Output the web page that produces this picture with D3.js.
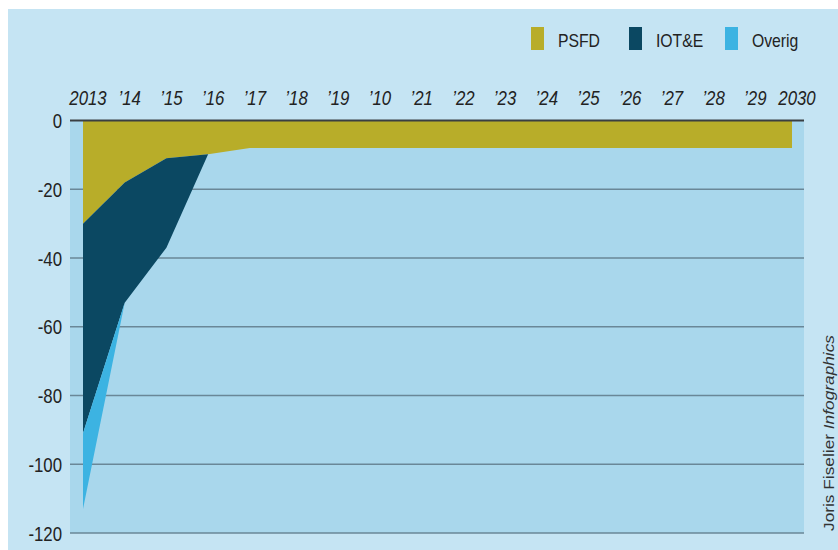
<!DOCTYPE html>
<html>
<head>
<meta charset="utf-8">
<script src="https://cdn.jsdelivr.net/npm/d3@7"></script>
<style>
  body { margin: 0; background: #fff; }
  svg { display: block; }
  .axis-text { font-family: "Liberation Sans", Arial, sans-serif; fill: #222; }
</style>
</head>
<body>
<div class="chart"></div>
<script>
// Set up chart
var svgWidth = 838;
var svgHeight = 550;

var years = d3.range(2013, 2031);
var yearLabels = ["2013", "’14", "’15", "’16", "’17", "’18", "’19", "’10", "’21", "’22",
    "’23", "’24", "’25", "’26", "’27", "’28", "’29", "2030"];
var psfd = [-30, -18, -11, -9.8, -8, -8, -8, -8, -8, -8, -8, -8, -8, -8, -8, -8, -8, -8];
var iote = [-61, -35, -26, 0, 0, 0, 0, 0, 0, 0, 0, 0, 0, 0, 0, 0, 0, 0];
var overig = [-22, 0, 0, 0, 0, 0, 0, 0, 0, 0, 0, 0, 0, 0, 0, 0, 0, 0];
var yTicks = [0, -20, -40, -60, -80, -100, -120];

var keys = ["PSFD", "IOT&E", "Overig"];
var colors = { "PSFD": "#b8ad29", "IOT&E": "#0b4862", "Overig": "#3cb3e2" };

var table = years.map(function (yr, i) {
    return { year: yr, "PSFD": psfd[i], "IOT&E": iote[i], "Overig": overig[i] };
});

var svg = d3.select(".chart")
    .append("svg")
    .attr("width", svgWidth)
    .attr("height", svgHeight);

// outer panel
svg.append("rect")
    .attr("x", 8).attr("y", 9)
    .attr("width", svgWidth - 8).attr("height", svgHeight - 9)
    .attr("fill", "#c5e4f3");

var xScale = d3.scaleLinear().domain([2013, 2030]).range([83, 792]);
var yScale = d3.scaleLinear().domain([0, -120]).range([120.5, 533]);

// plot background
svg.append("rect")
    .attr("x", 70).attr("y", yScale(0))
    .attr("width", 734).attr("height", yScale(-120) - yScale(0))
    .attr("fill", "#a9d7ec");

// gridlines
svg.append("g")
    .selectAll("line")
    .data(yTicks.filter(function (d) { return d !== 0; }))
    .enter()
    .append("line")
    .attr("x1", 70).attr("x2", 804)
    .attr("y1", function (d) { return yScale(d); })
    .attr("y2", function (d) { return yScale(d); })
    .attr("stroke", "#6a8797")
    .attr("stroke-width", 1.3);

// stacked areas (values are negative, so the plain stack runs downward)
var stack = d3.stack().keys(keys);
var series = stack(table);

var area = d3.area()
    .x(function (d) { return xScale(d.data.year); })
    .y0(function (d) { return yScale(d[0]); })
    .y1(function (d) { return yScale(d[1]); });

svg.append("g")
    .selectAll("path")
    .data(series)
    .enter()
    .append("path")
    .attr("d", area)
    .attr("fill", function (d) { return colors[d.key]; });

// zero line
svg.append("line")
    .attr("x1", 70).attr("x2", 804)
    .attr("y1", yScale(0)).attr("y2", yScale(0))
    .attr("stroke", "#3a3f42")
    .attr("stroke-width", 2);

// x labels (top), condensed look
svg.append("g")
    .selectAll("text")
    .data(years)
    .enter()
    .append("text")
    .attr("class", "axis-text")
    .attr("transform", function (d) {
        return "translate(" + (xScale(d) + 5) + ",105) scale(0.8,1)";
    })
    .attr("text-anchor", "middle")
    .style("font-size", "21px")
    .style("font-style", "italic")
    .text(function (d, i) { return yearLabels[i]; });

// y labels
svg.append("g")
    .selectAll("text")
    .data(yTicks)
    .enter()
    .append("text")
    .attr("class", "axis-text")
    .attr("transform", function (d) {
        return "translate(62," + (yScale(d) + 7.5) + ") scale(0.8,1)";
    })
    .attr("text-anchor", "end")
    .style("font-size", "21px")
    .text(function (d) { return d; });

// legend
var legendX = [531, 629, 725];
var legend = svg.append("g")
    .selectAll("g")
    .data(keys)
    .enter()
    .append("g")
    .attr("transform", function (d, i) { return "translate(" + legendX[i] + ",27)"; });

legend.append("rect")
    .attr("width", 13).attr("height", 23)
    .attr("fill", function (d) { return colors[d]; });

legend.append("text")
    .attr("class", "axis-text")
    .attr("transform", "translate(27,19.5) scale(0.9,1)")
    .style("font-size", "17.5px")
    .text(function (d) { return d; });

// credit
var credit = svg.append("text")
    .attr("transform", "translate(834,531) rotate(-90)")
    .style("font-family", "Liberation Sans, sans-serif")
    .style("font-size", "15px")
    .attr("fill", "#333")
    .attr("textLength", 196)
    .attr("lengthAdjust", "spacingAndGlyphs");
credit.append("tspan").text("Joris Fiselier ");
credit.append("tspan").style("font-style", "italic").text("Infographics");
</script>
</body>
</html>
